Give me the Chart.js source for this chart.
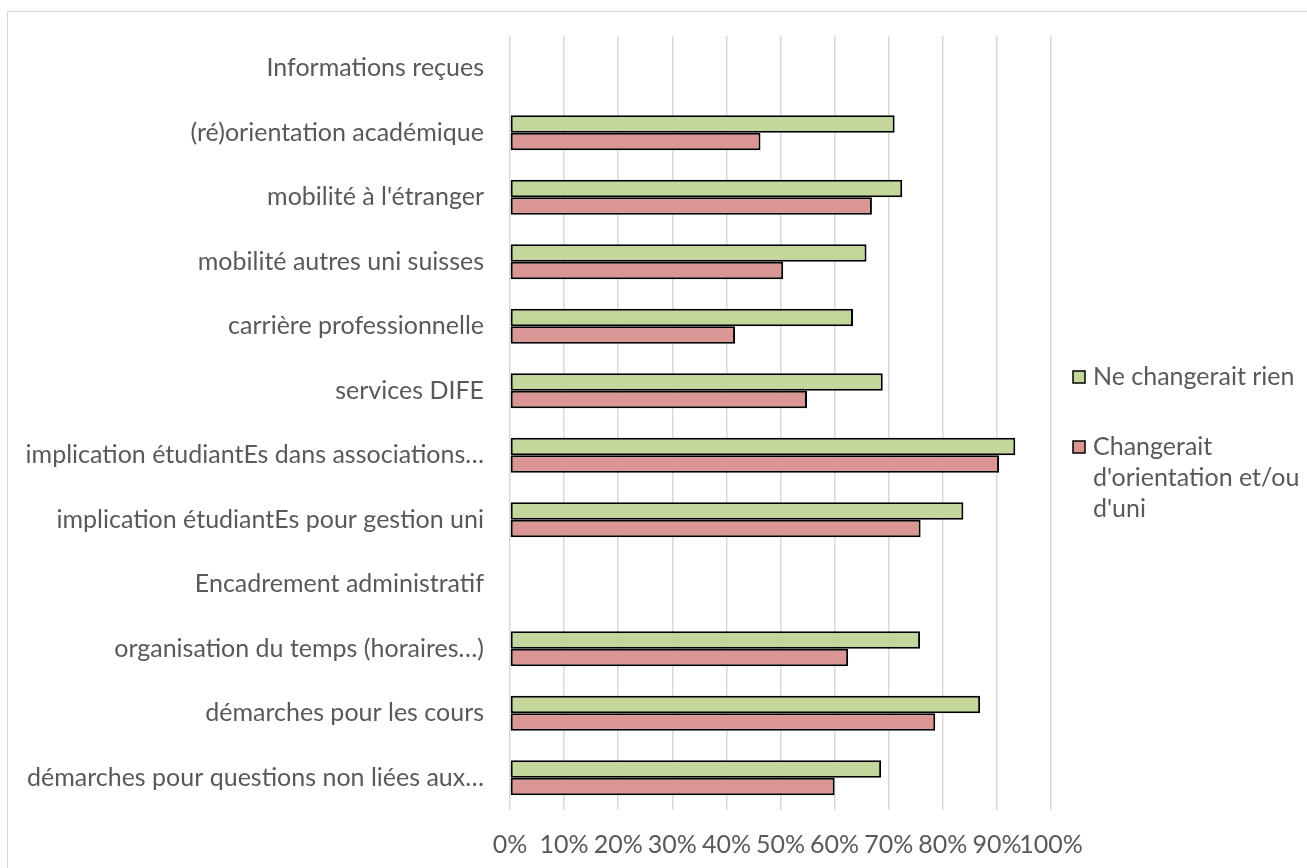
<!DOCTYPE html>
<html>
<head>
<meta charset="utf-8">
<script src="https://cdn.jsdelivr.net/npm/chart.js@4/dist/chart.umd.min.js"></script>
<style>
  html, body { margin: 0; padding: 0; background: #fff; overflow: hidden; }
  #frame { position: absolute; left: 7px; top: 11px; width: 1320px; height: 880px; border: 1px solid #d9d9d9; box-sizing: border-box; }
  #wrap { position: absolute; left: 0; top: 0; width: 1307px; height: 868px; }
</style>
</head>
<body>
<div id="frame"></div>
<div id="wrap"><canvas id="chart"></canvas></div>
<script>
// categories, top to bottom
var categories = [
  "Informations reçues",
  "(ré)orientation académique",
  "mobilité à l'étranger",
  "mobilité autres uni suisses",
  "carrière professionnelle",
  "services DIFE",
  "implication étudiantEs dans associations…",
  "implication étudiantEs pour gestion uni",
  "Encadrement administratif",
  "organisation du temps (horaires…)",
  "démarches pour les cours",
  "démarches pour questions non liées aux…"
];

var seriesNames = ["Ne changerait rien", ["Changerait", "d'orientation et/ou", "d'uni"]];

// percent values
var neChangeraitRien = [null, 71.1, 72.5, 65.9, 63.4, 68.9, 93.4, 83.8, null, 75.8, 86.9, 68.6];
var changerait       = [null, 46.3, 66.9, 50.5, 41.6, 54.9, 90.4, 75.9, null, 62.5, 78.6, 60.0];

var tickValues = [0, 10, 20, 30, 40, 50, 60, 70, 80, 90, 100];

var textColor = '#595959';
var font = { family: 'Lato, "Open Sans", sans-serif', size: 25 };

// simple legend on the right, like the original one
var sideLegend = {
  id: 'sideLegend',
  afterDraw: function (chart) {
    var ctx = chart.ctx;
    var rows = [377, 447];
    ctx.save();
    ctx.font = font.size + 'px ' + font.family;
    ctx.textBaseline = 'middle';
    chart.data.datasets.forEach(function (ds, i) {
      var y = rows[i];
      ctx.fillStyle = ds.backgroundColor;
      ctx.fillRect(1073, y - 6, 12, 12);
      ctx.strokeStyle = '#000';
      ctx.lineWidth = 1.5;
      ctx.strokeRect(1073, y - 6, 12, 12);
      ctx.fillStyle = textColor;
      var lines = [].concat(seriesNames[i]);
      lines.forEach(function (line, k) {
        ctx.fillText(line, 1093, y + k * 31);
      });
    });
    ctx.restore();
  }
};

var ctx = document.getElementById('chart');
var chart = new Chart(ctx, {
  type: 'bar',
  data: {
    labels: categories,
    datasets: [
      {
        label: 'Ne changerait rien',
        data: neChangeraitRien,
        backgroundColor: '#c4d79b',
        borderColor: '#000000',
        borderWidth: 2,
        borderSkipped: false
      },
      {
        label: "Changerait d'orientation et/ou d'uni",
        data: changerait,
        backgroundColor: '#da9694',
        borderColor: '#000000',
        borderWidth: 2,
        borderSkipped: false
      }
    ]
  },
  options: {
    indexAxis: 'y',
    responsive: true,
    maintainAspectRatio: false,
    animation: false,
    categoryPercentage: 0.54,
    barPercentage: 1.0,
    layout: { padding: { top: 36, right: 256, bottom: 0, left: 0 } },
    plugins: {
      legend: { display: false },
      tooltip: { enabled: false }
    },
    scales: {
      x: {
        min: 0,
        max: 100,
        afterBuildTicks: function (axis) {
          axis.ticks = tickValues.map(function (v) { return { value: v }; });
        },
        afterFit: function (axis) { axis.height = 58; },
        grid: { color: '#d9d9d9', lineWidth: 1.5, drawTicks: false },
        border: { display: false },
        ticks: {
          color: textColor,
          font: font,
          padding: 20,
          maxRotation: 0,
          autoSkip: false,
          callback: function (v) { return v + '%'; }
        }
      },
      y: {
        afterFit: function (axis) {
          axis.width = 510;
          axis.paddingTop = 0;
          axis.paddingBottom = 0;
        },
        grid: { display: false, drawTicks: false },
        border: { display: false },
        ticks: {
          color: textColor,
          font: font,
          padding: 26,
          autoSkip: false
        }
      }
    }
  },
  plugins: [sideLegend]
});
</script>
</body>
</html>
